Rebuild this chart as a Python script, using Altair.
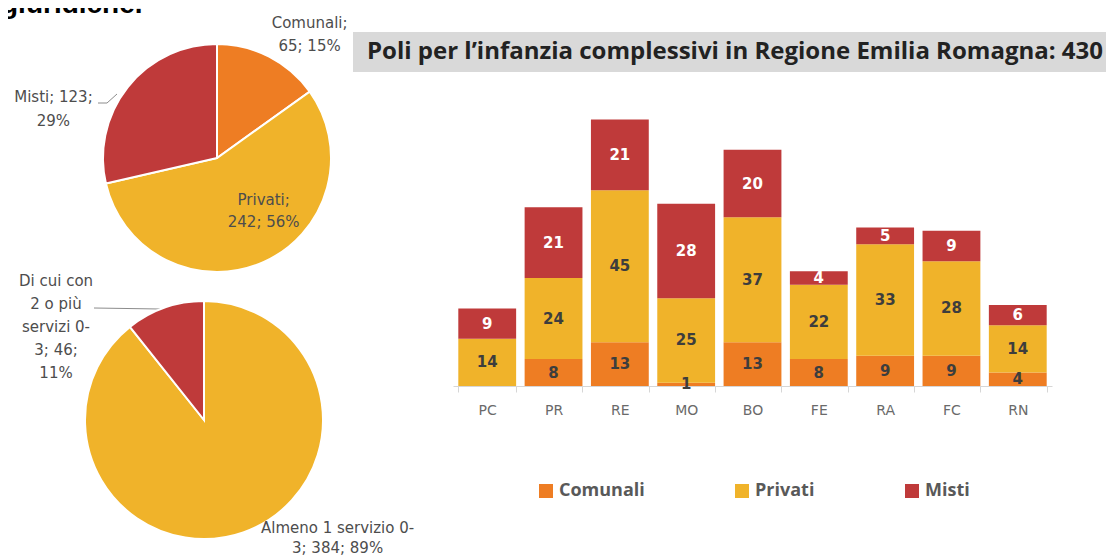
import altair as alt
import pandas as pd

# ---------------- data ----------------
provinces = ["PC", "PR", "RE", "MO", "BO", "FE", "RA", "FC", "RN"]
comunali = [0, 8, 13, 1, 13, 8, 9, 9, 4]
privati = [14, 24, 45, 25, 37, 22, 33, 28, 14]
misti = [9, 21, 21, 28, 20, 4, 5, 9, 6]
series_names = ["Comunali", "Privati", "Misti"]

pie1_names = ["Comunali", "Privati", "Misti"]
pie1_values = [65, 242, 123]
pie1_labels = ["Comunali;\n65; 15%", "Privati;\n242; 56%", "Misti; 123;\n29%"]

pie2_names = ["Almeno 1 servizio 0-3", "Di cui con 2 o più servizi 0-3"]
pie2_values = [384, 46]
pie2_labels = ["Almeno 1 servizio 0-\n3; 384; 89%", "Di cui con\n2 o più\nservizi 0-\n3; 46;\n11%"]

title_text = "Poli per l’infanzia complessivi in Regione Emilia Romagna: 430"
heading_text = "giuridiche."

# ---------------- style ----------------
ORANGE, YELLOW, RED = "#EE7D23", "#F0B32A", "#BF3A3A"
series_colors = [ORANGE, YELLOW, RED]
pie1_colors = [ORANGE, YELLOW, RED]
pie2_colors = [YELLOW, RED]
LABEL_GRAY = "#4d4d4d"
LEADER_GRAY = "#8c8c8c"


def pie(names, values, labels, colors, cx, cy, r, label_specs):
    df = pd.DataFrame({"name": names, "v": values, "label": labels,
                       "ord": list(range(len(names)))})
    base = alt.Chart(df).encode(
        theta=alt.Theta("v:Q", stack=True),
        order=alt.Order("ord:Q", sort="ascending"),
    )
    arc = base.mark_arc(radius=r, x=cx, y=cy, stroke="white", strokeWidth=2).encode(
        color=alt.Color("name:N", scale=alt.Scale(domain=names, range=colors), legend=None)
    )
    layers = [arc]
    for i, (R, dx, dy, lh) in enumerate(label_specs):
        layers.append(
            base.transform_calculate(t=f"datum.ord == {i} ? datum.label : ''")
            .mark_text(radius=R, x=cx, y=cy, dx=dx, dy=dy, lineBreak="\n",
                       font="DejaVu Sans", fontSize=15, lineHeight=lh,
                       color=LABEL_GRAY, align="center", baseline="middle")
            .encode(text="t:N")
        )
    return alt.layer(*layers)


pie1 = pie(pie1_names, pie1_values, pie1_labels, pie1_colors, 209, 150, 114,
           [(150, 24, -2, 23), (60, 22, -13, 22), (140, -54, 26, 24)])
pie2 = pie(pie2_names, pie2_values, pie2_labels, pie2_colors, 196, 412, 119,
           [(123, 93, -8, 20), (100, -115, -45, 23)])

heading_df = pd.DataFrame({"h": [heading_text]})
heading = alt.Chart(heading_df).mark_text(
    align="left", baseline="alphabetic", font="Liberation Sans", fontSize=28,
    fontWeight="bold", color="#000000", clip=True, x=-7, y=5
).encode(text="h:N")

# leader lines of the pie data labels
leader_a = alt.Chart(heading_df).mark_rule(color=LEADER_GRAY, strokeWidth=1).encode(
    x=alt.value(90), x2=alt.value(99), y=alt.value(95), y2=alt.value(95))
leader_b = alt.Chart(heading_df).mark_rule(color=LEADER_GRAY, strokeWidth=1).encode(
    x=alt.value(99), x2=alt.value(109), y=alt.value(95), y2=alt.value(86))
leader_c = alt.Chart(heading_df).mark_rule(color=LEADER_GRAY, strokeWidth=1).encode(
    x=alt.value(86), x2=alt.value(152), y=alt.value(300), y2=alt.value(301))

pies = alt.layer(heading, leader_a, leader_b, leader_c, pie1, pie2).resolve_scale(
    theta="independent", color="independent"
).properties(width=345, height=548)

# ---------------- bars ----------------
rows = []
for i, p in enumerate(provinces):
    for j, (name, vals) in enumerate(zip(series_names, [comunali, privati, misti])):
        rows.append({"prov": p, "serie": name, "ord": j, "v": vals[i]})
bars_df = pd.DataFrame(rows)

base = alt.Chart(bars_df).transform_stack(
    stack="v", groupby=["prov"], as_=["y0", "y1"],
    sort=[alt.SortField("ord", order="ascending")]
).transform_calculate(ym="(datum.y0 + datum.y1) / 2")

xenc = alt.X(
    "prov:N", sort=provinces, title=None,
    scale=alt.Scale(paddingInner=0.128, paddingOuter=0.08),
    axis=alt.Axis(labelAngle=0, labelFont="DejaVu Sans", labelFontSize=14,
                  labelColor="#6a6a6a", domainColor="#D6D6D6", tickColor="#D6D6D6",
                  tickSize=6, tickBand="extent", labelPadding=11, grid=False),
)
yscale = alt.Scale(domain=[0, 112], nice=False, zero=True)

bars = base.mark_bar().encode(
    x=xenc,
    y=alt.Y("y0:Q", scale=yscale, axis=None),
    y2="y1:Q",
    color=alt.Color(
        "serie:N", scale=alt.Scale(domain=series_names, range=series_colors),
        legend=alt.Legend(
            orient="none", legendX=84, legendY=474, direction="horizontal", title=None,
            symbolType="square", symbolSize=196, symbolStrokeWidth=0,
            labelFont="Open Sans", labelFontSize=18, labelFontWeight="bold",
            labelColor="#595959", columnPadding=88, labelOffset=4, padding=0,
        ),
    ),
)

bar_labels = base.transform_filter("datum.v > 0").mark_text(
    font="DejaVu Sans", fontSize=15, fontWeight="bold", baseline="middle"
).encode(
    x=xenc,
    y=alt.Y("ym:Q", scale=yscale, axis=None),
    text="v:Q",
    color=alt.condition("datum.serie == 'Misti'", alt.value("white"), alt.value("#3d3d3d")),
)

title_df = pd.DataFrame({"t": [title_text]})
box = alt.Chart(title_df).mark_rect(color="#D9D9D9").encode(
    x=alt.value(-100), x2=alt.value(653), y=alt.value(24), y2=alt.value(64)
)
title = alt.Chart(title_df).mark_text(
    align="left", baseline="middle", font="Open Sans", fontSize=24,
    fontWeight="bold", color="#222222"
).encode(x=alt.value(-86), y=alt.value(44), text="t:N")

bar_view = alt.layer(box, title, bars, bar_labels).properties(width=599, height=378)

chart = alt.hconcat(pies, bar_view, spacing=100, bounds="flush").resolve_scale(
    color="independent"
).configure_view(stroke=None).properties(padding=0)

chart.save("out.html", embed_options={"renderer": "svg", "actions": False})
